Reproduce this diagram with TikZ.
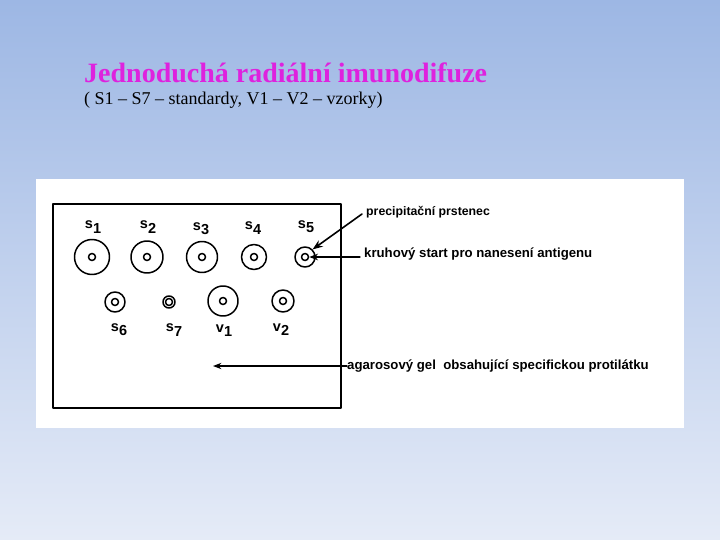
\documentclass[tikz,border=0pt]{standalone}
\usepackage{fontspec}
\setmainfont{Liberation Serif}
\setsansfont{Liberation Sans}
\usetikzlibrary{arrows.meta}
\definecolor{nadpis}{RGB}{222,34,222}
\definecolor{pozadih}{RGB}{157,183,228}
\definecolor{pozadid}{RGB}{229,235,247}
\newcommand{\jmeno}[2]{#1\raisebox{-.55ex}{#2}}
\begin{document}
\begin{tikzpicture}[x=1pt,y=-1pt,line join=round,line cap=round,>=Stealth,
  jamka/.style={circle,draw,line width=1.5pt,inner sep=0pt,minimum size=#1},
  popis/.style={font=\sffamily\bfseries\fontsize{13.2}{15}\selectfont,anchor=west,inner sep=0pt},
  znacka/.style={font=\sffamily\bfseries\fontsize{14.5}{16}\selectfont,inner sep=0pt}]
  % pozadi
  \shade[top color=pozadih,bottom color=pozadid] (0,0) rectangle (720,540);
  \useasboundingbox (0,0) rectangle (720,540);
  \node[anchor=base west,inner sep=0pt,text=nadpis,font=\bfseries\fontsize{28}{32}\selectfont] (nadpis) at (84,83) {Jednoduchá radiální imunodifuze};
  \node[anchor=base west,inner sep=0pt,font=\fontsize{18}{21}\selectfont] (podnadpis) at (84,105) {( S1 -- S7 -- standardy, V1 -- V2 -- vzorky)};
  \fill[white] (36,179) rectangle (684,428);
  % gel
  \draw[line width=1.5pt] (53,204) rectangle (341,408);
  % jamky: x/y/prumer/jmeno
  \foreach \x/\y/\d/\n in {92/257/35/s1,147/257/32/s2,202/257/31/s3,254/257/25/s4,305/257/20/s5,
                          115/302/20/s6,169/302/12/s7,223/301/30/v1,283/301/22/v2}{
    \node[jamka=\d pt] (\n) at (\x,\y) {};
    \node[jamka=7pt] (\n st) at (\x,\y) {};
  }
  \node[znacka] (ls1) at (93,227) {\jmeno{s}{1}};
  \node[znacka] (ls2) at (148,227) {\jmeno{s}{2}};
  \node[znacka] (ls3) at (201,229) {\jmeno{s}{3}};
  \node[znacka] (ls4) at (253,228) {\jmeno{s}{4}};
  \node[znacka] (ls5) at (306,227) {\jmeno{s}{5}};
  \node[znacka] (ls6) at (119,330) {\jmeno{s}{6}};
  \node[znacka] (ls7) at (174,330) {\jmeno{s}{7}};
  \node[znacka] (lv1) at (224,331) {\jmeno{v}{1}};
  \node[znacka] (lv2) at (281,330) {\jmeno{v}{2}};
  % popisky
  \node[popis,font=\sffamily\bfseries\fontsize{12.3}{14}\selectfont] (prsten) at (366,212) {precipitační prstenec};
  \node[popis] (start) at (364,254) {kruhový start pro nanesení antigenu};
  \node[popis] (agar) at (347,366) {agarosový gel\ \ obsahující specifickou protilátku};
  \coordinate (gel) at (213,366);
  \draw[->,line width=1.6pt] (prsten.west) ++(-4,2) -- (s5.north east);
  \draw[->,line width=1.3pt] ([xshift=-4pt]start.west |- s5st.east) -- (s5st.east);
  \draw[->,line width=1.2pt] (agar.west) -- (gel);
\end{tikzpicture}
\end{document}
